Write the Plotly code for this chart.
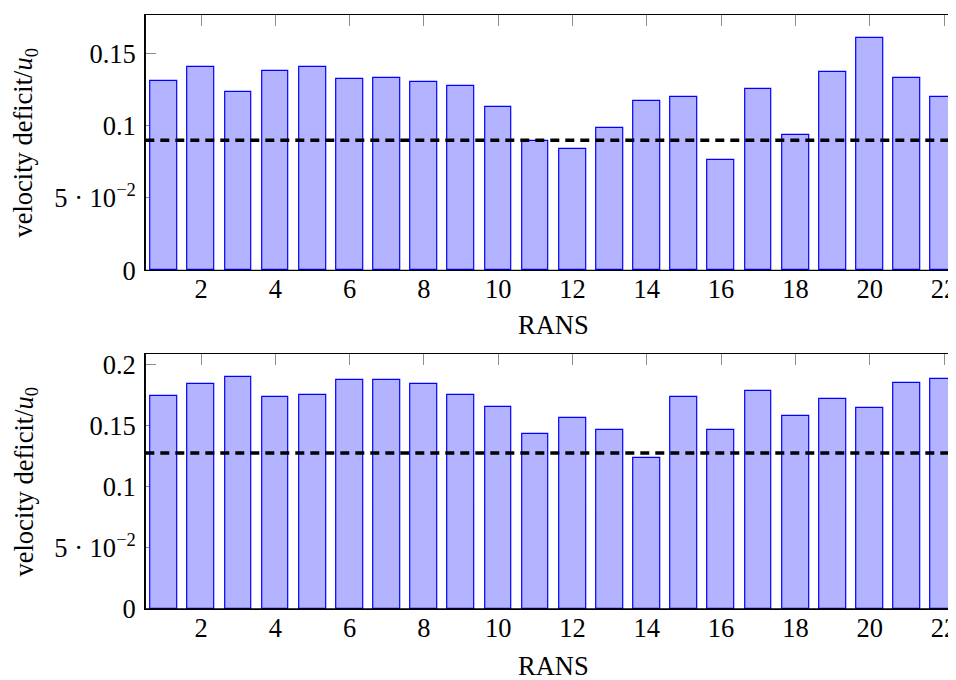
import plotly.graph_objects as go

cases = list(range(1, 23))
top_values = [0.1306, 0.1407, 0.1230, 0.1380, 0.1405, 0.1320, 0.1329, 0.1304, 0.1272,
              0.1131, 0.0896, 0.0836, 0.0984, 0.1168, 0.1196, 0.0765, 0.1251, 0.0935,
              0.1369, 0.1604, 0.1332, 0.1196]
bottom_values = [0.1741, 0.1842, 0.1894, 0.1730, 0.1747, 0.1869, 0.1875, 0.1837, 0.1747,
                 0.1651, 0.1433, 0.1559, 0.1466, 0.1232, 0.1733, 0.1466, 0.1779, 0.1575,
                 0.1714, 0.1643, 0.1850, 0.1877]
top_reference = 0.0899
bottom_reference = 0.1275

top_yticks = [0, 0.05, 0.1, 0.15]
top_yticklabels = ["0", "5 · 10<sup>−2</sup>", "0.1", "0.15"]
bottom_yticks = [0, 0.05, 0.1, 0.15, 0.2]
bottom_yticklabels = ["0", "5 · 10<sup>−2</sup>", "0.1", "0.15", "0.2"]
xticks = list(range(2, 23, 2))

OFF = 8  # page body margin
W, H = 956 - OFF, 680 - OFF
FONT = dict(family="Liberation Serif", size=26.5, color="black")
BAR_FILL = "#b3b3ff"
BAR_EDGE = "#0000ff"
TICK_COLOR = "#8c8c8c"

left_px = 145.3 - OFF
xr = [0.5, 0.5 + (W - left_px) / 37.15]


def px(p):
    return (p - OFF) / W


def py(p):
    return 1 - (p - OFF) / H


fig = go.Figure()
fig.add_trace(go.Bar(x=cases, y=top_values, width=0.72,
                     marker=dict(color=BAR_FILL, line=dict(color=BAR_EDGE, width=1.2)),
                     xaxis="x", yaxis="y", showlegend=False))
fig.add_trace(go.Bar(x=cases, y=bottom_values, width=0.72,
                     marker=dict(color=BAR_FILL, line=dict(color=BAR_EDGE, width=1.2)),
                     xaxis="x2", yaxis="y2", showlegend=False))

xdom = [left_px / W, 1.0]
common_x = dict(range=xr, tickvals=xticks, ticks="inside", ticklen=11, tickcolor=TICK_COLOR, tickwidth=1,
                showline=True, linecolor="black", linewidth=1.3, mirror="ticks", showgrid=False,
                zeroline=False, layer="below traces", tickfont=FONT, ticklabelstandoff=-5, domain=xdom,
                automargin=False, ticklabeloverflow="allow")
common_y = dict(ticks="inside", ticklen=11, tickcolor=TICK_COLOR, tickwidth=1,
                showline=True, linecolor="black", linewidth=1.3, mirror=False, showgrid=False,
                zeroline=False, layer="below traces", tickfont=FONT, ticklabelstandoff=3,
                automargin=False)

fig.update_layout(
    width=W, height=H, margin=dict(l=0, r=0, t=0, b=0, pad=0, autoexpand=False),
    paper_bgcolor="white", plot_bgcolor="white", bargap=0, showlegend=False,
    xaxis=dict(anchor="y", **common_x),
    yaxis=dict(anchor="x", domain=[py(270.3), py(15)], range=[0, 0.1765],
               tickvals=top_yticks, ticktext=top_yticklabels, **common_y),
    xaxis2=dict(anchor="y2", **common_x),
    yaxis2=dict(anchor="x2", domain=[py(609), py(354)], range=[0, 0.2084],
                tickvals=bottom_yticks, ticktext=bottom_yticklabels, **common_y),
)

# right-hand mirrored y ticks (axis frame itself lies just past the visible edge)
stub_start = (951 - 145.3) / (956 - 145.3)
for xa, ya, vals in (("x", "y", top_yticks), ("x2", "y2", bottom_yticks)):
    for v in vals:
        fig.add_shape(type="line", xref=f"{xa} domain", yref=ya, x0=stub_start, x1=1, y0=v, y1=v,
                      line=dict(color=TICK_COLOR, width=1), layer="below")

dash = dict(color="black", width=3.5, dash="9px,6px")
fig.add_shape(type="line", xref="x domain", yref="y", x0=0, x1=1, y0=top_reference, y1=top_reference,
              line=dash, layer="above")
fig.add_shape(type="line", xref="x2 domain", yref="y2", x0=0, x1=1, y0=bottom_reference, y1=bottom_reference,
              line=dash, layer="above")

for xa, ya in (("x", "y"), ("x2", "y2")):
    fig.add_shape(type="line", xref=f"{xa} domain", yref=f"{ya} domain", x0=0, x1=1, y0=0, y1=0,
                  line=dict(color="black", width=1.3), layer="above")
    fig.add_shape(type="line", xref=f"{xa} domain", yref=f"{ya} domain", x0=0, x1=0, y0=0, y1=1,
                  line=dict(color="black", width=1.3), layer="above")

xcenter = px(145.3 + 37.15 * 11)
for ycen in (325, 665.5):
    fig.add_annotation(text="RANS", xref="paper", yref="paper", x=xcenter, y=py(ycen),
                       showarrow=False, font=FONT, xanchor="center", yanchor="middle")
for ycen in (142.6, 481.5):
    fig.add_annotation(text="velocity deficit/<i>u</i><sub>0</sub>", xref="paper", yref="paper",
                       x=px(25), y=py(ycen), textangle=-90, showarrow=False, font=FONT,
                       xanchor="center", yanchor="middle")

fig.write_html("out.html")
